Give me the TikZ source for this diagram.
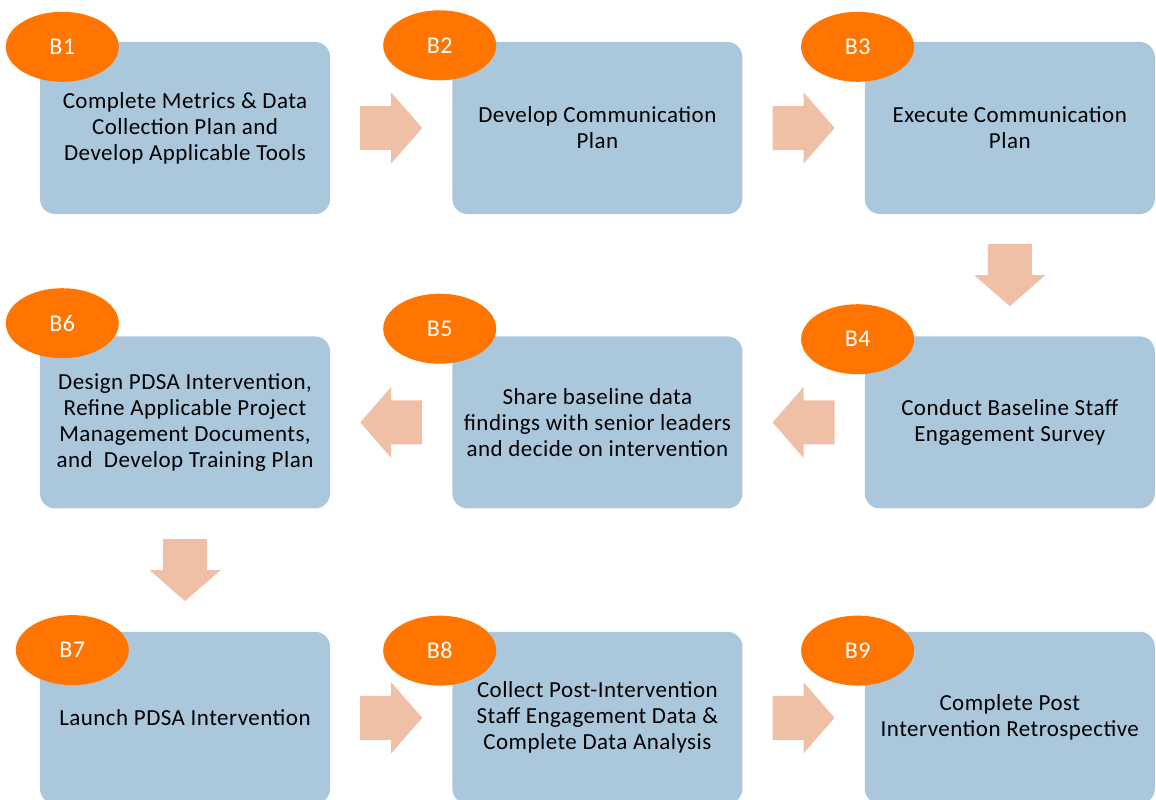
\documentclass[tikz,border=0pt]{standalone}
\usepackage{fontspec}
\setmainfont{Carlito}[LetterSpace=2]
\usetikzlibrary{positioning}
\usetikzlibrary{shapes.geometric}
\definecolor{boxblue}{HTML}{ABC7DC}
\definecolor{tagorange}{HTML}{FF7500}
\definecolor{arrowpeach}{HTML}{EFC0A6}
\tikzset{node distance=122pt}

\begin{document}
\begin{tikzpicture}[x=1pt,y=-1pt,
stage/.style={fill=boxblue, rounded corners=15pt, minimum width=290pt, minimum height=172pt,
	inner sep=0pt, align=center, font=\fontsize{23}{26}\selectfont},
tag/.style={ellipse, fill=tagorange, text=white, minimum width=113pt, minimum height=70pt,
	inner sep=0pt, font=\fontsize{24}{26}\selectfont},
flow/.pic={\fill[arrowpeach] (-31,-22) -- (0,-22) -- (0,-35.5) -- (31,0) -- (0,35.5) -- (0,22) -- (-31,22) -- cycle;}]
\useasboundingbox (0,0) rectangle (1156,800);

%first row
\node[stage] (b1) at (185,128) {Complete Metrics \& Data\\Collection Plan and\\Develop Applicable Tools};
\node[stage, right=of b1] (b2) {Develop Communication\\Plan};
\node[stage, right=of b2] (b3) {Execute Communication\\Plan};
%second row (right to left)
\node[stage, below=of b3] (b4) {Conduct Baseline Staff\\Engagement Survey};
\node[stage, left=of b4] (b5) {Share baseline data\\findings with senior leaders\\and decide on intervention};
\node[stage, left=of b5] (b6) {Design PDSA Intervention,\\Refine Applicable Project\\Management Documents,\\and~ Develop Training Plan};
%third row
\node[stage, below=123pt of b6] (b7) {Launch PDSA Intervention};
\node[stage, right=of b7] (b8) {Collect Post-Intervention\\Staff Engagement Data \&\\Complete Data Analysis};
\node[stage, right=of b8] (b9) {Complete Post\\Intervention Retrospective};

%block arrows halfway between the boxes
\foreach \from/\to/\turn in {1/2/0, 2/3/0, 3/4/-90, 4/5/180, 5/6/180, 6/7/-90, 7/8/0, 8/9/0}{
	\path (b\from) -- (b\to) coordinate[midway] (a\from\to);
	\pic[rotate=\turn] at (a\from\to) {flow};
}

%step tags on the corners
\foreach \n/\dx/\dy in {1/22.5/5, 2/-12.5/3.5, 3/-7/5, 4/-7/3, 5/-12.5/-7.5, 6/22.5/-13, 7/32.5/18.5, 8/-12.5/19, 9/-7/19}
	\node[tag] (t\n) at ([shift={(\dx,\dy)}]b\n.north west) {B\n};
\end{tikzpicture}
\end{document}
